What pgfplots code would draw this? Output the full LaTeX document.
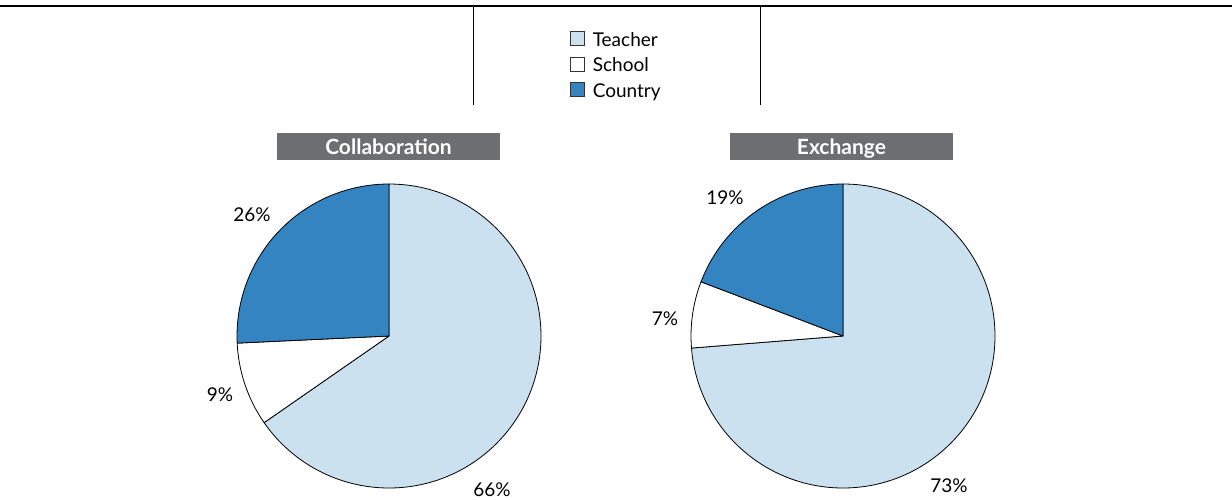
\documentclass[border=0pt]{standalone}
\usepackage{pgfplots}
\pgfplotsset{compat=1.18}
\usepackage{fontspec}
\setmainfont{Lato}
\definecolor{teacher}{HTML}{CCE1EF}
\definecolor{school}{HTML}{FFFFFF}
\definecolor{country}{HTML}{3484C1}
\definecolor{titlegray}{HTML}{6D6E71}
% pie data: value/colour
\def\collabdata{66/teacher,9/school,26/country}
\def\exchangedata{73/teacher,7/school,19/country}
\newcommand{\piechart}[3]{% cx, cy, data macro
  \xdef\pietot{0}%
  \foreach \v/\c in #3{\pgfmathsetmacro\t{\pietot+\v}\xdef\pietot{\t}}%
  \xdef\piest{90}%
  \foreach \v/\c in #3{%
    \pgfmathsetmacro\en{\piest-(\v/\pietot)*360}%
    \filldraw[fill=\c,draw=black,line width=0.8pt,line join=round]
      (axis cs:#1,#2) -- ++(\piest:152pt) arc[start angle=\piest,end angle=\en,radius=152pt] -- cycle;
    \xdef\piest{\en}%
  }%
}
\tikzset{lbl/.style={font=\fontsize{19}{22}\selectfont, inner sep=0pt}}
\begin{document}
\begin{tikzpicture}
\useasboundingbox (0,0) rectangle (1232pt,499pt);
\begin{axis}[
  at={(0,0)}, anchor=south west,
  scale only axis, width=1232pt, height=499pt,
  xmin=0, xmax=1232, ymin=0, ymax=499, y dir=reverse,
  hide axis, clip=false,
  legend style={at={(axis cs:570,27)}, anchor=north west, draw=none, fill=none,
    font=\fontsize{19}{22}\selectfont, row sep=3pt, column sep=6pt, inner sep=0pt,
    cells={anchor=west, text height=17pt, text depth=0pt}},
  legend image code/.code={\draw[#1,line width=0.6pt] (0pt,-7pt) rectangle (14pt,7pt);},
]
\addlegendimage{fill=teacher,draw=black!80}
\addlegendentry{Teacher}
\addlegendimage{fill=school,draw=black!80}
\addlegendentry{School}
\addlegendimage{fill=country,draw=black!80}
\addlegendentry{Country}
% frame lines
\draw[line width=1.2pt] (axis cs:0,6) -- (axis cs:1232,6);
\draw[line width=1pt] (axis cs:473,6) -- (axis cs:473,105);
\draw[line width=1pt] (axis cs:760,6) -- (axis cs:760,105);
% title boxes
\fill[titlegray] (axis cs:277,133) rectangle (axis cs:500,160);
\node[anchor=base,text=white,font=\bfseries\fontsize{21}{24}\selectfont,inner sep=0pt] at (axis cs:388.5,154) {Collaboration};
\fill[titlegray] (axis cs:730,133) rectangle (axis cs:953,160);
\node[anchor=base,text=white,font=\bfseries\fontsize{21}{24}\selectfont,inner sep=0pt] at (axis cs:841.5,154) {Exchange};
% pies
\pgfplotsextra{\piechart{389}{336}{\collabdata}}
\pgfplotsextra{\piechart{843}{336}{\exchangedata}}
% labels
\node[lbl] at (axis cs:252,215) {26\%};
\node[lbl] at (axis cs:220,395) {9\%};
\node[lbl] at (axis cs:492,490) {66\%};
\node[lbl] at (axis cs:725,198) {19\%};
\node[lbl] at (axis cs:665,319) {7\%};
\node[lbl] at (axis cs:949,486) {73\%};
\end{axis}
\end{tikzpicture}
\end{document}
